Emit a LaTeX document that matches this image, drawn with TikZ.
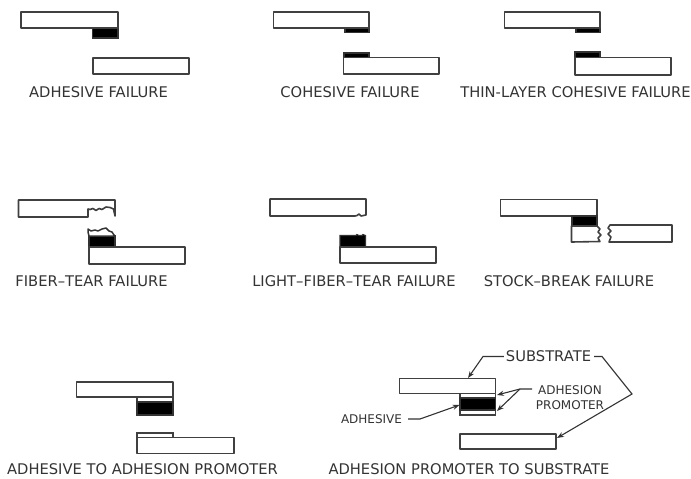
\documentclass[tikz,border=0pt]{standalone}
\usepackage{fontspec}
\setmainfont{DejaVu Sans}
\usetikzlibrary{arrows.meta}
\tikzset{
  plate/.style={draw=black!75,line width=1.6pt,fill=white,line join=round},
  glue/.style={draw=black!80,line width=1.1pt,fill=black},
  primer/.style={draw=black!75,line width=1.3pt,fill=white},
  tear/.style={draw=black!80,line width=1.5pt,line join=round},
  lbl/.style={font=\fontsize{14.7}{16}\selectfont,text=black!80,inner sep=0pt},
  smalllbl/.style={font=\fontsize{12}{15}\selectfont,text=black!80,inner sep=0pt,align=center},
  leader/.style={draw=black!80,line width=1.1pt},
  ptr/.style={leader,-{Stealth[length=2.4mm,width=1.8mm]}},
}
\begin{document}
\begin{tikzpicture}[x=1pt,y=-1pt]
    \useasboundingbox (0,0) rectangle (691,479);
    % ---------- top row ----------
    \draw[glue] (92.5,28) rectangle (118,38);
    \draw[plate] (21,12) rectangle (118,28);
    \draw[plate] (93,58) rectangle (189,74);
    \node[lbl] (adhesive) at (98.5,92) {ADHESIVE FAILURE};
    \draw[glue] (345,28) rectangle (369,32.5);
    \draw[plate] (273.5,12) rectangle (369,28);
    \draw[glue] (344,53) rectangle (369,57.5);
    \draw[plate] (343.5,57.5) rectangle (439,74);
    \node[lbl] (cohesive) at (350,92) {COHESIVE FAILURE};
    \draw[glue] (576,28) rectangle (600,32.5);
    \draw[plate] (504.5,12) rectangle (600,28);
    \draw[glue] (575,52) rectangle (600,57.5);
    \draw[plate] (575,57.5) rectangle (671,75);
    \node[lbl] (thinlayer) at (575.5,92) {THIN-LAYER COHESIVE FAILURE};
    % ---------- middle row ----------
    % fiber tear: both broken faces drawn by hand
    \draw[plate] (88,217) -- (18.5,217) -- (18.5,200) -- (115,200) -- (115,216)
      -- (113.5,209) -- (110,207.5) -- (106,207) -- (102,209.5) -- (99,208.5)
      -- (96,210.5) -- (93,208.5) -- (90,209.5) -- (88,209) -- cycle;
    \draw[glue] (89,236) rectangle (115,247);
    \draw[tear,fill=white] (89,236) -- (88,232) -- (88,229) -- (91,231) -- (95,230)
      -- (98,231) -- (102,229) -- (106,228) -- (109,231) -- (112,232) -- (114,235) -- (115,236) -- cycle;
    \draw[plate] (89,247) rectangle (185,264);
    \node[lbl] (fibertear) at (91.5,281.5) {FIBER--TEAR FAILURE};
    \draw[plate] (355,216) -- (270,216) -- (270,199) -- (366,199) -- (366,215)
      -- (361,216) -- (359,214) -- (357,215.5) -- cycle;
    \draw[glue] (340,235.5) -- (356,235.5) -- (357,234.5) -- (359,235.5) -- (362,235.5)
      -- (363,234.5) -- (365.5,235.5) -- (365.5,247) -- (340,247) -- cycle;
    \draw[plate] (340,247) rectangle (436,263);
    \node[lbl] (lightfiber) at (354,281.5) {LIGHT--FIBER--TEAR FAILURE};
    \draw[plate] (500.5,199.5) rectangle (597,216);
    \draw[glue] (572,216) rectangle (597,226);
    % stock break: jagged ends of the two pieces
    \draw[plate] (571.5,226) -- (597,226) -- (600,229) -- (598,232) -- (601,235)
      -- (598,238) -- (600,241.5) -- (571.5,242) -- cycle;
    \draw[plate] (672,225) -- (610,225) -- (608,228) -- (611,231) -- (608,234)
      -- (611,237) -- (609,242) -- (672,242) -- cycle;
    \node[lbl] (stockbreak) at (569,281.5) {STOCK--BREAK FAILURE};
    % ---------- bottom row ----------
    \draw[plate] (76.5,382) rectangle (173,397);
    \draw[primer] (137,397) rectangle (173,402);
    \draw[glue] (137,402) rectangle (173,415);
    \draw[primer] (137,433) rectangle (173,437.5);
    \draw[plate] (137,437.5) rectangle (234,453.5);
    \node[lbl] (topromoter) at (142.5,469) {ADHESIVE TO ADHESION PROMOTER};
    \draw[primer] (460,393.5) rectangle (495.5,415);
    \draw[glue] (460,398) rectangle (495.5,410);
    \draw[plate] (399.5,378.5) rectangle (495.5,393.5);
    \draw[plate] (460,434) rectangle (556,449);
    \node[lbl] (tosubstrate) at (469,469) {ADHESION PROMOTER TO SUBSTRATE};
    % labels and leaders
    \node[lbl] (substrate) at (548.5,356.5) {SUBSTRATE};
    \node[smalllbl] (promoter) at (570,397.5) {ADHESION\\PROMOTER};
    \node[smalllbl] (glue) at (371.5,419) {ADHESIVE};
    \coordinate (s1) at (468,378);
    \coordinate (s2) at (557,438);
    \coordinate (p0) at (532,389);
    \coordinate (p1) at (497,395);
    \coordinate (p2) at (497,411);
    \coordinate (g0) at (408,419);
    \coordinate (g1) at (459.5,405);
    \draw[ptr] (substrate.west) ++(-2,0) -- (483,356.5) -- (s1);
    \draw[ptr] (substrate.east) ++(3,0) -- (602,356.5) -- (632,394) -- (s2);
    \draw[ptr] (p0) -- (520,389) -- (p1);
    \draw[ptr] (520,389) -- (p2);
    \draw[ptr] (g0) -- (420,419) -- (g1);
\end{tikzpicture}
\end{document}
